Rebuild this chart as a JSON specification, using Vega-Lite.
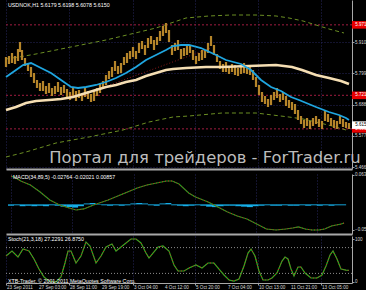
{
"$schema": "https://vega.github.io/schema/vega-lite/v6.json",
"background": "#000000",
"padding": 0,
"spacing": 2,
"config": {
  "view": {"stroke": null},
  "axis": {"labelFont": "Liberation Sans, sans-serif", "labelFontSize": 4.5, "labelColor": "#d8d8d8", "tickColor": "#a0a0a0", "domainColor": "#a8a8a8", "gridColor": "#26265c", "gridDash": [1, 2], "gridOpacity": 1, "gridWidth": 1, "labelOverlap": false, "labelBound": false},
  "text": {"font": "Liberation Sans, sans-serif"}
},
"datasets": {
  "candles": [
    {"i":0,"h":5.8574,"l":5.8218},{"i":3,"h":5.8609,"l":5.8325},{"i":6,"h":5.8716,"l":5.8360},{"i":9,"h":5.8609,"l":5.8325},
    {"i":12,"h":5.8858,"l":5.8432},{"i":14,"h":5.9108,"l":5.8752},{"i":16,"h":5.8823,"l":5.8467},{"i":19,"h":5.8538,"l":5.8254},
    {"i":22,"h":5.8360,"l":5.8076},{"i":25,"h":5.8218,"l":5.7862},{"i":28,"h":5.8005,"l":5.7649},{"i":31,"h":5.7755,"l":5.7471},
    {"i":34,"h":5.7649,"l":5.7365},{"i":37,"h":5.7720,"l":5.7364},{"i":40,"h":5.7542,"l":5.7258},{"i":43,"h":5.7649,"l":5.7293},
    {"i":46,"h":5.7471,"l":5.7187},{"i":49,"h":5.7542,"l":5.7258},{"i":52,"h":5.7685,"l":5.7329},{"i":55,"h":5.7506,"l":5.7222},
    {"i":58,"h":5.7577,"l":5.7293},{"i":61,"h":5.7436,"l":5.7080},{"i":64,"h":5.7328,"l":5.7044},{"i":67,"h":5.7471,"l":5.7187},
    {"i":70,"h":5.7364,"l":5.7008},{"i":73,"h":5.7400,"l":5.7116},{"i":76,"h":5.7293,"l":5.7009},{"i":79,"h":5.7507,"l":5.7151},
    {"i":82,"h":5.7364,"l":5.7080},{"i":85,"h":5.7257,"l":5.6973},{"i":88,"h":5.7364,"l":5.7008},{"i":91,"h":5.7471,"l":5.7187},
    {"i":94,"h":5.7649,"l":5.7293},{"i":97,"h":5.7720,"l":5.7436},{"i":100,"h":5.7934,"l":5.7578},{"i":103,"h":5.8075,"l":5.7791},
    {"i":106,"h":5.8218,"l":5.7862},{"i":109,"h":5.8432,"l":5.8076},{"i":112,"h":5.8253,"l":5.7969},{"i":115,"h":5.8361,"l":5.8005},
    {"i":118,"h":5.8574,"l":5.8290},{"i":121,"h":5.8716,"l":5.8360},{"i":124,"h":5.8787,"l":5.8503},{"i":127,"h":5.8930,"l":5.8574},
    {"i":130,"h":5.8787,"l":5.8503},{"i":133,"h":5.9072,"l":5.8716},{"i":136,"h":5.9143,"l":5.8859},{"i":139,"h":5.9001,"l":5.8645},
    {"i":142,"h":5.9250,"l":5.8894},{"i":145,"h":5.9321,"l":5.9037},{"i":148,"h":5.9179,"l":5.8823},{"i":151,"h":5.9285,"l":5.9001},
    {"i":154,"h":5.9499,"l":5.9143},{"i":157,"h":5.9677,"l":5.9321},{"i":160,"h":5.9784,"l":5.9428},{"i":163,"h":5.9534,"l":5.9108},
    {"i":166,"h":5.9001,"l":5.8645},{"i":169,"h":5.9072,"l":5.8788},{"i":172,"h":5.9179,"l":5.8823},{"i":175,"h":5.8859,"l":5.8503},
    {"i":178,"h":5.8894,"l":5.8610},{"i":181,"h":5.9001,"l":5.8645},{"i":184,"h":5.9000,"l":5.8716},{"i":187,"h":5.8823,"l":5.8467},
    {"i":190,"h":5.8609,"l":5.8325},{"i":193,"h":5.8716,"l":5.8432},{"i":196,"h":5.8823,"l":5.8467},{"i":199,"h":5.8823,"l":5.8539},
    {"i":202,"h":5.9072,"l":5.8716},{"i":205,"h":5.9321,"l":5.8965},{"i":208,"h":5.9001,"l":5.8645},{"i":211,"h":5.8680,"l":5.8396},
    {"i":214,"h":5.8431,"l":5.8147},{"i":217,"h":5.8325,"l":5.8041},{"i":220,"h":5.8396,"l":5.8040},{"i":223,"h":5.8253,"l":5.7969},
    {"i":226,"h":5.8325,"l":5.8041},{"i":229,"h":5.8289,"l":5.7933},{"i":232,"h":5.8182,"l":5.7898},{"i":235,"h":5.8253,"l":5.7969},
    {"i":238,"h":5.8361,"l":5.8005},{"i":241,"h":5.8253,"l":5.7969},{"i":244,"h":5.8218,"l":5.7934},{"i":247,"h":5.8111,"l":5.7755},
    {"i":250,"h":5.7862,"l":5.7506},{"i":253,"h":5.7578,"l":5.7222},{"i":256,"h":5.7329,"l":5.6973},{"i":259,"h":5.7186,"l":5.6902},
    {"i":262,"h":5.7079,"l":5.6795},{"i":265,"h":5.7222,"l":5.6866},{"i":268,"h":5.7328,"l":5.7044},{"i":271,"h":5.7471,"l":5.7115},
    {"i":274,"h":5.7257,"l":5.6973},{"i":277,"h":5.7328,"l":5.7044},{"i":280,"h":5.7186,"l":5.6830},{"i":283,"h":5.7044,"l":5.6760},
    {"i":286,"h":5.6973,"l":5.6689},{"i":289,"h":5.6902,"l":5.6546},{"i":292,"h":5.6688,"l":5.6332},{"i":295,"h":5.6474,"l":5.6190},
    {"i":298,"h":5.6332,"l":5.6048},{"i":301,"h":5.6403,"l":5.6119},{"i":304,"h":5.6296,"l":5.6012},{"i":307,"h":5.6403,"l":5.6119},
    {"i":310,"h":5.6474,"l":5.6190},{"i":313,"h":5.6368,"l":5.6084},{"i":316,"h":5.6296,"l":5.6012},{"i":319,"h":5.6653,"l":5.6297},
    {"i":322,"h":5.6546,"l":5.6262},{"i":325,"h":5.6403,"l":5.6119},{"i":328,"h":5.6332,"l":5.6048},{"i":331,"h":5.6296,"l":5.6012},
    {"i":334,"h":5.6474,"l":5.6190},{"i":337,"h":5.6368,"l":5.6084},{"i":340,"h":5.6261,"l":5.6047},{"i":343,"h":5.6226,"l":5.6012}
  ],
  "blue": [
    {"i":0,"v":5.7862},{"i":10,"v":5.8111},{"i":17,"v":5.8289},{"i":25,"v":5.8360},{"i":35,"v":5.8183},{"i":45,"v":5.8005},
    {"i":55,"v":5.7756},{"i":65,"v":5.7507},{"i":72,"v":5.7471},{"i":80,"v":5.7507},{"i":90,"v":5.7578},{"i":100,"v":5.7684},
    {"i":110,"v":5.7827},{"i":120,"v":5.8005},{"i":130,"v":5.8218},{"i":140,"v":5.8467},{"i":150,"v":5.8645},{"i":160,"v":5.8823},
    {"i":167,"v":5.8965},{"i":175,"v":5.9001},{"i":183,"v":5.9001},{"i":195,"v":5.8894},{"i":210,"v":5.8645},{"i":220,"v":5.8467},
    {"i":235,"v":5.8325},{"i":245,"v":5.8111},{"i":255,"v":5.7756},{"i":265,"v":5.7507},{"i":275,"v":5.7364},{"i":285,"v":5.7151},
    {"i":293,"v":5.7044},{"i":310,"v":5.6795},{"i":323,"v":5.6617},{"i":333,"v":5.6510},{"i":340,"v":5.6404},{"i":343,"v":5.6332}
  ],
  "wheat": [
    {"i":0,"v":5.6688},{"i":10,"v":5.6795},{"i":20,"v":5.6937},{"i":30,"v":5.7008},{"i":43,"v":5.7044},{"i":55,"v":5.7080},
    {"i":67,"v":5.7151},{"i":80,"v":5.7293},{"i":90,"v":5.7400},{"i":100,"v":5.7507},{"i":110,"v":5.7578},{"i":120,"v":5.7684},
    {"i":130,"v":5.7756},{"i":140,"v":5.7898},{"i":150,"v":5.8005},{"i":160,"v":5.8111},{"i":167,"v":5.8147},{"i":180,"v":5.8183},
    {"i":200,"v":5.8218},{"i":216,"v":5.8218},{"i":243,"v":5.8254},{"i":270,"v":5.8289},{"i":286,"v":5.8218},{"i":296,"v":5.8111},
    {"i":310,"v":5.7933},{"i":323,"v":5.7827},{"i":335,"v":5.7720},{"i":343,"v":5.7613}
  ],
  "envU": [
    {"i":0,"v":5.8503},{"i":13,"v":5.8574},{"i":30,"v":5.8681},{"i":50,"v":5.8823},{"i":75,"v":5.9001},{"i":100,"v":5.9179},
    {"i":125,"v":5.9392},{"i":150,"v":5.9606},{"i":165,"v":5.9784},{"i":180,"v":5.9962},{"i":203,"v":6.0033},{"i":225,"v":6.0068},
    {"i":250,"v":6.0068},{"i":270,"v":6.0033},{"i":283,"v":5.9962},{"i":297,"v":5.9855},{"i":310,"v":5.9713},{"i":323,"v":5.9570},
    {"i":338,"v":5.9428}
  ],
  "envL": [
    {"i":0,"v":5.5016},{"i":20,"v":5.5194},{"i":50,"v":5.5514},{"i":83,"v":5.5728},{"i":117,"v":5.5977},{"i":143,"v":5.6261},
    {"i":167,"v":5.6439},{"i":183,"v":5.6475},{"i":216,"v":5.6581},{"i":250,"v":5.6581},{"i":283,"v":5.6439},{"i":297,"v":5.6368},
    {"i":310,"v":5.6261},{"i":330,"v":5.6083},{"i":340,"v":5.5977}
  ],
  "trend": [{"i":90,"v":5.7400},{"i":205,"v":5.8894}],
  "levels": [
    {"v":5.9718,"t":"5.9718","k":"lvl"},{"v":5.7211,"t":"5.7211","k":"lvl"},{"v":5.6017,"t":"5.6017","k":"lvl"},{"v":5.615,"t":"5.6150","k":"bid"}
  ],
  "macd": [
    {"i":0,"v":0.0617},{"i":5,"v":0.0573},{"i":10,"v":0.0508},{"i":15,"v":0.0465},{"i":20,"v":0.0421},{"i":30,"v":0.0269},
    {"i":40,"v":0.0095},{"i":50,"v":-0.0013},{"i":60,"v":-0.0079},{"i":67,"v":-0.0122},{"i":75,"v":-0.0100},{"i":85,"v":-0.0013},
    {"i":100,"v":0.0095},{"i":110,"v":0.0182},{"i":120,"v":0.0269},{"i":130,"v":0.0356},{"i":140,"v":0.0421},{"i":150,"v":0.0465},
    {"i":160,"v":0.0508},{"i":166,"v":0.0508},{"i":173,"v":0.0443},{"i":183,"v":0.0247},{"i":190,"v":0.0160},{"i":203,"v":0.0052},
    {"i":213,"v":-0.0057},{"i":223,"v":-0.0165},{"i":233,"v":-0.0252},{"i":243,"v":-0.0318},{"i":253,"v":-0.0426},{"i":263,"v":-0.0535},
    {"i":273,"v":-0.0557},{"i":283,"v":-0.0535},{"i":290,"v":-0.0513},{"i":296,"v":-0.0491},{"i":303,"v":-0.0535},{"i":310,"v":-0.0557},
    {"i":317,"v":-0.0557},{"i":323,"v":-0.0535},{"i":330,"v":-0.0470},{"i":340,"v":-0.0426},{"i":343,"v":-0.0405}
  ],
  "hist": [
    {"i":0,"v":-0.003},{"i":6,"v":-0.002},{"i":12,"v":-0.004},{"i":18,"v":-0.003},{"i":24,"v":-0.004},{"i":30,"v":-0.003},
    {"i":36,"v":-0.004},{"i":42,"v":-0.002},{"i":48,"v":-0.003},{"i":54,"v":-0.005},{"i":60,"v":-0.006},{"i":66,"v":-0.007},
    {"i":72,"v":-0.004},{"i":78,"v":0.002},{"i":84,"v":0.003},{"i":90,"v":-0.001},{"i":96,"v":-0.002},{"i":102,"v":-0.003},
    {"i":108,"v":-0.002},{"i":114,"v":-0.003},{"i":120,"v":-0.002},{"i":126,"v":0.002},{"i":132,"v":0.003},{"i":138,"v":0.002},
    {"i":144,"v":-0.002},{"i":150,"v":-0.003},{"i":156,"v":0.002},{"i":162,"v":0.003},{"i":168,"v":-0.002},{"i":174,"v":-0.003},
    {"i":180,"v":-0.004},{"i":186,"v":-0.003},{"i":192,"v":-0.002},{"i":198,"v":-0.003},{"i":204,"v":-0.005},{"i":210,"v":-0.006},
    {"i":216,"v":-0.004},{"i":222,"v":-0.003},{"i":228,"v":-0.003},{"i":234,"v":-0.004},{"i":240,"v":-0.005},{"i":246,"v":-0.006},
    {"i":252,"v":-0.004},{"i":258,"v":-0.003},{"i":264,"v":-0.002},{"i":270,"v":-0.003},{"i":276,"v":-0.003},{"i":282,"v":-0.002},
    {"i":288,"v":-0.003},{"i":294,"v":-0.003},{"i":300,"v":-0.002},{"i":306,"v":-0.003},{"i":312,"v":-0.002},{"i":318,"v":-0.003},
    {"i":324,"v":-0.002},{"i":330,"v":-0.003},{"i":336,"v":-0.002},{"i":342,"v":-0.002}
  ],
  "stoch": [
    {"i":0,"v":60.5},{"i":6,"v":72.1},{"i":12,"v":58.1},{"i":17,"v":76.7},{"i":23,"v":72.1},{"i":28,"v":53.5},{"i":33,"v":30.2},
    {"i":38,"v":11.6},{"i":43,"v":2.3},{"i":50,"v":0},{"i":55,"v":11.6},{"i":59,"v":44.2},{"i":62,"v":72.1},{"i":65,"v":72.1},
    {"i":70,"v":44.2},{"i":75,"v":60.5},{"i":80,"v":93},{"i":84,"v":83.7},{"i":90,"v":44.2},{"i":95,"v":60.5},{"i":100,"v":81.4},
    {"i":106,"v":88.4},{"i":110,"v":72.1},{"i":115,"v":81.4},{"i":120,"v":90.7},{"i":125,"v":100},{"i":130,"v":100},{"i":135,"v":90.7},
    {"i":140,"v":67.4},{"i":143,"v":55.8},{"i":147,"v":67.4},{"i":152,"v":81.4},{"i":157,"v":83.7},{"i":163,"v":72.1},{"i":168,"v":39.5},
    {"i":172,"v":25.6},{"i":178,"v":25.6},{"i":183,"v":32.6},{"i":190,"v":39.5},{"i":196,"v":32.6},{"i":202,"v":44.2},{"i":208,"v":44.2},
    {"i":213,"v":30.2},{"i":218,"v":16.3},{"i":223,"v":4.7},{"i":228,"v":2.3},{"i":233,"v":7},{"i":238,"v":37.2},{"i":242,"v":67.4},
    {"i":245,"v":76.7},{"i":249,"v":60.5},{"i":253,"v":25.6},{"i":257,"v":4.7},{"i":262,"v":4.7},{"i":266,"v":9.3},{"i":271,"v":20.9},
    {"i":276,"v":48.8},{"i":279,"v":58.1},{"i":282,"v":53.5},{"i":285,"v":30.2},{"i":288,"v":14},{"i":292,"v":34.9},{"i":295,"v":34.9},
    {"i":299,"v":20.9},{"i":305,"v":9.3},{"i":311,"v":9.3},{"i":316,"v":16.3},{"i":320,"v":37.2},{"i":324,"v":62.8},{"i":327,"v":72.1},
    {"i":331,"v":53.5},{"i":335,"v":30.2},{"i":340,"v":27.5},{"i":343,"v":26.9}
  ],
  "stochLevels": [{"v":20},{"v":80}],
  "timeLabels": [
    {"i":0,"t":"23 Sep 2011"},{"i":32,"t":"27 Sep 03:00"},{"i":63,"t":"28 Sep 11:00"},{"i":95,"t":"29 Sep 19:00"},
    {"i":127,"t":"3 Oct 04:00"},{"i":158,"t":"4 Oct 12:00"},{"i":189,"t":"5 Oct 20:00"},{"i":221,"t":"7 Oct 04:00"},
    {"i":252,"t":"10 Oct 13:00"},{"i":284,"t":"11 Oct 21:00"},{"i":315,"t":"13 Oct 05:00"}
  ]
},
"vconcat": [
  {
    "width": 346, "height": 169,
    "layer": [
      {"data": {"name": "levels"}, "transform": [{"filter": "datum.k == 'lvl'"}], "mark": {"type": "rule", "color": "#a01c40", "strokeDash": [2, 2], "strokeWidth": 1},
       "encoding": {"x": {"datum": 0, "type": "quantitative"}, "x2": {"datum": 346}, "y": {"field": "v", "type": "quantitative", "title": null}}},
      {"data": {"name": "envU"}, "mark": {"type": "line", "color": "#6b8e23", "strokeDash": [4, 3], "strokeWidth": 1},
       "encoding": {
        "x": {"field": "i", "type": "quantitative", "title": null, "scale": {"domain": [0, 346], "nice": false, "zero": false},
              "axis": {"values": [0,32,63,95,127,158,189,221,252,284,315], "labels": false, "ticks": false, "domain": true, "domainWidth": 2, "grid": true, "title": null}},
        "y": {"field": "v", "type": "quantitative", "title": null, "scale": {"domain": [5.4589, 6.0602], "nice": false, "zero": false},
              "axis": {"orient": "right", "values": [5.466,5.5215,5.577,5.6325,5.688,5.7435,5.799,5.8545,5.91,6.021], "format": ".4f", "grid": true, "domain": true, "ticks": true, "tickSize": 2, "labelPadding": 0.5, "title": null}}}},
      {"data": {"name": "envL"}, "mark": {"type": "line", "color": "#6b8e23", "strokeDash": [4, 3], "strokeWidth": 1},
       "encoding": {"x": {"field": "i", "type": "quantitative", "title": null}, "y": {"field": "v", "type": "quantitative", "title": null}}},
      {"data": {"name": "trend"}, "mark": {"type": "line", "color": "#8b1a1a", "strokeDash": [1, 2], "strokeWidth": 1},
       "encoding": {"x": {"field": "i", "type": "quantitative", "title": null}, "y": {"field": "v", "type": "quantitative", "title": null}}},
      {"data": {"name": "candles"}, "mark": {"type": "rule", "color": "#b5852a", "strokeWidth": 2.2},
       "encoding": {"x": {"field": "i", "type": "quantitative", "title": null}, "y": {"field": "l", "type": "quantitative", "title": null}, "y2": {"field": "h"}}},
      {"data": {"name": "wheat"}, "mark": {"type": "line", "color": "#f5deb3", "strokeWidth": 2.6},
       "encoding": {"x": {"field": "i", "type": "quantitative", "title": null}, "y": {"field": "v", "type": "quantitative", "title": null}}},
      {"data": {"name": "blue"}, "mark": {"type": "line", "color": "#1fa6e0", "strokeWidth": 1.8},
       "encoding": {"x": {"field": "i", "type": "quantitative", "title": null}, "y": {"field": "v", "type": "quantitative", "title": null}}},
      {"data": {"values": [{"t": "Портал для трейдеров - ForTrader.ru"}]}, "mark": {"type": "text", "font": "DejaVu Sans", "fontSize": 16.4, "color": "#bcbcbc", "align": "center", "baseline": "alphabetic"},
       "encoding": {"x": {"datum": 199, "type": "quantitative"}, "y": {"datum": 5.4803, "type": "quantitative"}, "text": {"field": "t"}}},
      {"data": {"values": [{"t": "USDNOK,H1  5.6179 5.6198 5.6078 5.6150"}]}, "mark": {"type": "text", "fontSize": 5.3, "color": "#ffffff", "align": "left", "baseline": "middle"},
       "encoding": {"x": {"datum": 2, "type": "quantitative"}, "y": {"datum": 6.0424, "type": "quantitative"}, "text": {"field": "t"}}},
      {"data": {"name": "levels"}, "mark": {"type": "point", "shape": "M-1,-0.38L1,-0.38L1,0.38L-1,0.38Z", "size": 400, "filled": true, "opacity": 1, "xOffset": 10},
       "encoding": {"x": {"datum": 346, "type": "quantitative"}, "y": {"field": "v", "type": "quantitative", "title": null}, "color": {"condition": {"test": "datum.k == 'bid'", "value": "#ffffff"}, "value": "#e80000"}}},
      {"data": {"name": "levels"}, "mark": {"type": "text", "fontSize": 4.5, "align": "center", "baseline": "middle", "dx": 10},
       "encoding": {"x": {"datum": 346, "type": "quantitative"}, "y": {"field": "v", "type": "quantitative", "title": null}, "text": {"field": "t"}, "color": {"condition": {"test": "datum.k == 'bid'", "value": "#000000"}, "value": "#ffffff"}}}
    ]
  },
  {
    "width": 346, "height": 60,
    "layer": [
      {"data": {"name": "hist"}, "mark": {"type": "bar", "color": "#16aee8", "size": 6},
       "encoding": {
        "x": {"field": "i", "type": "quantitative", "title": null, "scale": {"domain": [0, 346], "nice": false, "zero": false},
              "axis": {"values": [0,32,63,95,127,158,189,221,252,284,315], "labels": false, "ticks": false, "domain": true, "domainWidth": 2, "grid": true, "title": null}},
        "y": {"field": "v", "type": "quantitative", "title": null, "scale": {"domain": [-0.0644, 0.0660], "nice": false, "zero": false},
              "axis": {"orient": "right", "values": [0.0639, 0, -0.05557], "labelExpr": "datum.value == 0 ? '0.00' : format(datum.value, '.5f')", "grid": false, "domain": true, "ticks": true, "tickSize": 2, "labelPadding": 0.5, "title": null}},
        "y2": {"datum": 0}}},
      {"data": {"name": "macd"}, "mark": {"type": "line", "color": "#1f9a1f", "strokeWidth": 1.2},
       "encoding": {"x": {"field": "i", "type": "quantitative", "title": null}, "y": {"field": "v", "type": "quantitative", "title": null}}},
      {"data": {"name": "macd"}, "mark": {"type": "line", "color": "#d02020", "strokeWidth": 1, "strokeDash": [1, 2]},
       "encoding": {"x": {"field": "i", "type": "quantitative", "title": null}, "y": {"field": "v", "type": "quantitative", "title": null}}},
      {"data": {"values": [{"t": "MACD(34,89,5) -0.02764 -0.02021 0.00857"}]}, "mark": {"type": "text", "fontSize": 5.3, "color": "#ffffff", "align": "left", "baseline": "middle"},
       "encoding": {"x": {"datum": 2, "type": "quantitative"}, "y": {"datum": 0.0595, "type": "quantitative"}, "text": {"field": "t"}}}
    ]
  },
  {
    "width": 346, "height": 47,
    "layer": [
      {"data": {"name": "stochLevels"}, "mark": {"type": "rule", "color": "#8c8c8c", "strokeDash": [1, 2], "strokeWidth": 1},
       "encoding": {"x": {"datum": 0, "type": "quantitative"}, "x2": {"datum": 346}, "y": {"field": "v", "type": "quantitative", "title": null}}},
      {"data": {"name": "stoch"}, "mark": {"type": "line", "color": "#22b422", "strokeWidth": 1.2},
       "encoding": {
        "x": {"field": "i", "type": "quantitative", "title": null, "scale": {"domain": [0, 346], "nice": false, "zero": false},
              "axis": {"values": [0,32,63,95,127,158,189,221,252,284,315], "labels": false, "ticks": true, "tickSize": 2, "domain": true, "domainWidth": 1, "grid": true, "title": null}},
        "y": {"field": "v", "type": "quantitative", "title": null, "scale": {"domain": [-2.33, 107], "nice": false, "zero": false},
              "axis": {"orient": "right", "values": [0, 20, 80, 100], "format": "d", "grid": false, "domain": true, "ticks": true, "tickSize": 2, "labelPadding": 0.5, "title": null}}}},
      {"data": {"name": "stoch"}, "mark": {"type": "line", "color": "#d02020", "strokeWidth": 1, "strokeDash": [1, 2]},
       "encoding": {"x": {"field": "i", "type": "quantitative", "title": null}, "y": {"field": "v", "type": "quantitative", "title": null}}},
      {"data": {"values": [{"t": "Stoch(21,3,18) 27.2291 26.8750"}]}, "mark": {"type": "text", "fontSize": 5.3, "color": "#ffffff", "align": "left", "baseline": "middle"},
       "encoding": {"x": {"datum": 2, "type": "quantitative"}, "y": {"datum": 100, "type": "quantitative"}, "text": {"field": "t"}}},
      {"data": {"values": [{"t": "XTB-Trader, © 2001-2011 MetaQuotes Software Corp."}]}, "mark": {"type": "text", "fontSize": 5.3, "color": "#ffffff", "align": "left", "baseline": "middle"},
       "encoding": {"x": {"datum": 2, "type": "quantitative"}, "y": {"datum": 2.3, "type": "quantitative"}, "text": {"field": "t"}}},
      {"data": {"name": "timeLabels"}, "mark": {"type": "text", "fontSize": 4.6, "color": "#d8d8d8", "align": "left", "baseline": "middle", "dx": 1},
       "encoding": {"x": {"field": "i", "type": "quantitative", "title": null}, "y": {"datum": -13, "type": "quantitative"}, "text": {"field": "t"}}}
    ]
  }
]
}
